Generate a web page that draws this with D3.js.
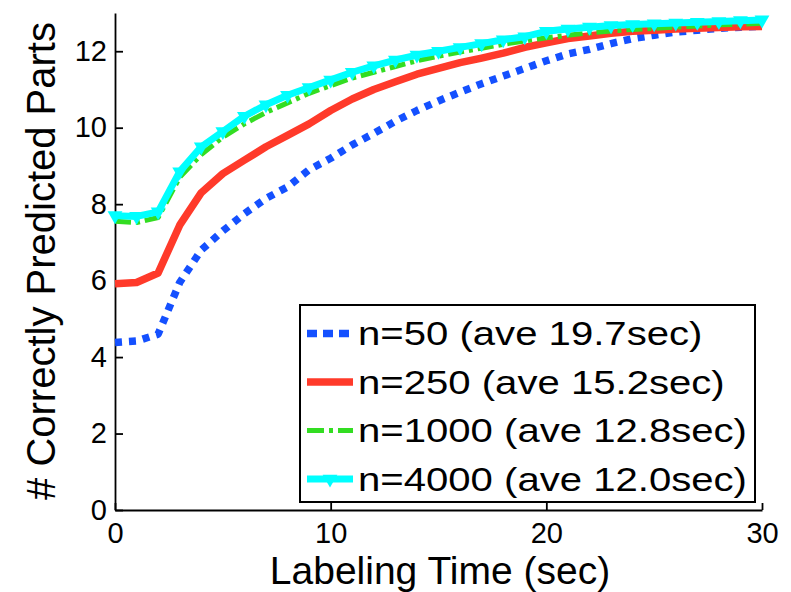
<!DOCTYPE html>
<html>
<head>
<meta charset="utf-8">
<script src="https://cdn.jsdelivr.net/npm/d3@7"></script>
<style>
  body { margin: 0; background: #fff; }
  text { font-family: "Liberation Sans", Arial, Helvetica, sans-serif; fill: #000; }
</style>
</head>
<body>
<svg id="chart"></svg>
<script>

// data (labeling time in sec vs. correct parts)
var times = [0, 1, 2, 3, 4, 5, 6, 7, 8, 9, 10, 11, 12, 13, 14, 15, 16, 17, 18, 19, 20, 21, 22, 23, 24, 25, 26, 27, 28, 29, 30];

var n50 = [4.38, 4.42, 4.6, 5.95, 6.8, 7.3, 7.75, 8.15, 8.45, 8.9, 9.2, 9.55, 9.85, 10.17, 10.45, 10.7, 10.93, 11.15, 11.35, 11.55, 11.75, 11.93, 12.05, 12.2, 12.33, 12.42, 12.5, 12.55, 12.6, 12.63, 12.65];
var n250 = [5.92, 5.95, 6.2, 7.45, 8.3, 8.8, 9.15, 9.5, 9.8, 10.1, 10.45, 10.75, 11.0, 11.2, 11.4, 11.55, 11.7, 11.82, 11.95, 12.1, 12.22, 12.33, 12.4, 12.47, 12.52, 12.55, 12.58, 12.6, 12.62, 12.64, 12.65];
var n1000 = [7.55, 7.52, 7.65, 8.7, 9.3, 9.75, 10.1, 10.4, 10.65, 10.9, 11.1, 11.3, 11.45, 11.6, 11.75, 11.87, 11.98, 12.08, 12.18, 12.27, 12.35, 12.42, 12.48, 12.53, 12.57, 12.6, 12.63, 12.66, 12.69, 12.71, 12.73];
var n4000 = [7.7, 7.68, 7.8, 8.85, 9.5, 9.9, 10.3, 10.6, 10.85, 11.05, 11.25, 11.45, 11.62, 11.77, 11.9, 12.0, 12.1, 12.2, 12.3, 12.38, 12.52, 12.58, 12.63, 12.67, 12.7, 12.72, 12.74, 12.76, 12.78, 12.8, 12.82];

var legendLabels = ["n=50 (ave 19.7sec)", "n=250 (ave 15.2sec)", "n=1000 (ave 12.8sec)", "n=4000 (ave 12.0sec)"];
var xTicks = [0, 10, 20, 30];
var yTicks = [0, 2, 4, 6, 8, 10, 12];

var width = 791;
var height = 592;

var svg = d3.select("#chart");
svg.attr("width", width);
svg.attr("height", height);

svg.append("rect")
  .attr("width", width)
  .attr("height", height)
  .attr("fill", "#fff");

var x = d3.scaleLinear().domain([0, 30]).range([115, 762]);
var y = d3.scaleLinear().domain([0, 13]).range([510, 13]);

// line styles, one per series
var series = [
  { values: n50, color: "#1450ff", width: 7.5, dash: "7,7", marker: false },
  { values: n250, color: "#ff3a2a", width: 7.5, dash: null, marker: false },
  { values: n1000, color: "#33dd22", width: 5, dash: "16,5,4,5", marker: false },
  { values: n4000, color: "#00ffff", width: 7, dash: null, marker: true }
];

var line = d3.line()
  .x(function (d) { return x(d[0]); })
  .y(function (d) { return y(d[1]); });

var tri = d3.symbol().type(d3.symbolTriangle).size(95);

/////////////////////////////////////////////////
// axes
/////////////////////////////////////////////////

var xAxis = svg.append("g")
  .attr("transform", "translate(0," + y(0) + ")")
  .call(d3.axisBottom(x).tickValues(xTicks).tickSize(-7).tickSizeOuter(0).tickPadding(12).tickFormat(d3.format("d")));

var yAxis = svg.append("g")
  .attr("transform", "translate(" + x(0) + ",0)")
  .call(d3.axisLeft(y).tickValues(yTicks).tickSize(-8).tickSizeOuter(0).tickPadding(8).tickFormat(d3.format("d")));

[xAxis, yAxis].forEach(function (ax) {
  ax.selectAll("path, line").attr("stroke", "#000").attr("stroke-width", 1.8);
  ax.selectAll("text").attr("font-size", "29px").attr("fill", "#000")
    .style("font-family", "'Liberation Sans', Arial, Helvetica, sans-serif");
});

// axis titles
svg.append("text")
  .attr("x", 440)
  .attr("y", 584)
  .attr("text-anchor", "middle")
  .attr("font-size", "39px")
  .text("Labeling Time (sec)");

svg.append("text")
  .attr("transform", "translate(55,261) rotate(-90)")
  .attr("text-anchor", "middle")
  .attr("font-size", "40px")
  .text("# Correctly Predicted Parts");

/////////////////////////////////////////////////
// lines
/////////////////////////////////////////////////

series.forEach(function (s) {
  var pts = times.map(function (t, i) { return [t, s.values[i]]; });

  var path = svg.append("path");
  path.attr("d", line(pts));
  path.attr("fill", "none");
  path.attr("stroke", s.color);
  path.attr("stroke-width", s.width);
  path.attr("stroke-linejoin", "round");
  if (s.dash) {
    path.attr("stroke-dasharray", s.dash);
  }

  if (s.marker) {
    svg.selectAll(null)
      .data(pts)
      .enter()
      .append("path")
      .attr("d", tri)
      .attr("transform", function (d) { return "translate(" + x(d[0]) + "," + y(d[1]) + ") rotate(180)"; })
      .attr("fill", s.color);
  }
});

/////////////////////////////////////////////////
// legend
/////////////////////////////////////////////////

var legend = svg.append("g");

legend.append("rect")
  .attr("x", 300)
  .attr("y", 305)
  .attr("width", 455)
  .attr("height", 197)
  .attr("fill", "#fff")
  .attr("stroke", "#000")
  .attr("stroke-width", 2);

var rowY = function (i) { return 333.5 + i * 48.5; };

series.forEach(function (s, i) {
  var l = legend.append("line");
  l.attr("x1", 307);
  l.attr("x2", 353);
  l.attr("y1", rowY(i));
  l.attr("y2", rowY(i));
  l.attr("stroke", s.color);
  l.attr("stroke-width", s.width);
  if (s.dash) {
    l.attr("stroke-dasharray", s.dash === "7,7" ? "10,6" : "17,5,4,5");
  }
  if (s.marker) {
    legend.append("path")
      .attr("d", tri)
      .attr("transform", "translate(330," + rowY(i) + ") rotate(180)")
      .attr("fill", s.color);
  }
});

// the legend text is drawn wider than normal in the figure
var textGroup = legend.append("g");
var texts = textGroup.selectAll("text")
  .data(legendLabels)
  .enter()
  .append("text")
  .attr("x", 0)
  .attr("y", function (d, i) { return rowY(i); })
  .attr("dy", "0.35em")
  .attr("font-size", "33px")
  .text(function (d) { return d; });

var longest = 0;
texts.each(function () { longest = Math.max(longest, this.getComputedTextLength()); });
var sx = 389 / longest;
textGroup.attr("transform", "translate(358,0) scale(" + sx + ",1)");

</script>
</body>
</html>
